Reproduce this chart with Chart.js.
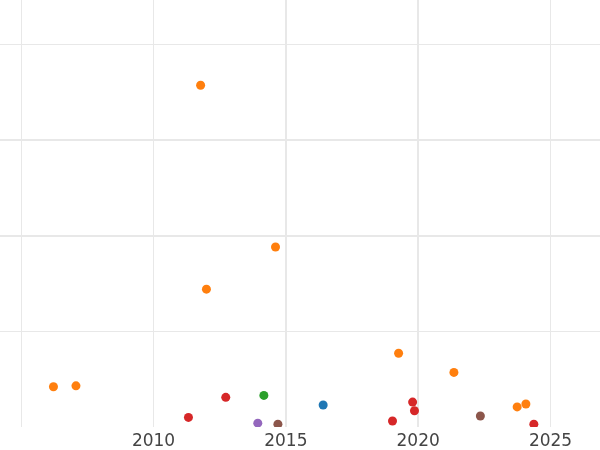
<!DOCTYPE html>
<html>
<head>
<meta charset="utf-8">
<script src="https://cdn.jsdelivr.net/npm/chart.js@4"></script>
<style>
  html, body { margin: 0; padding: 0; background: #fff; }
  #wrap { width: 600px; height: 450px; }
</style>
</head>
<body>
<div id="wrap"><canvas id="myChart"></canvas></div>
<script>
// x ticks (years) and y grid values
const xTicks = [2005, 2010, 2015, 2020, 2025];
const yTicks = [1, 2, 3, 4];

// series, one per colour
const orangeX = [2011.78, 2014.61, 2012.0, 2006.22, 2007.07, 2019.26, 2021.35, 2023.74, 2024.07];
const orangeY = [3.57, 1.88, 1.44, 0.42, 0.43, 0.77, 0.57, 0.21, 0.24];
const redX = [2011.32, 2012.73, 2019.03, 2019.79, 2019.86, 2024.37];
const redY = [0.10, 0.31, 0.063, 0.26, 0.17, 0.03];
const greenX = [2014.17];
const greenY = [0.33];
const blueX = [2016.41];
const blueY = [0.23];
const purpleX = [2013.94];
const purpleY = [0.04];
const brownX = [2014.70, 2022.35];
const brownY = [0.03, 0.115];

const pts = (xs, ys) => xs.map((x, i) => ({ x: x, y: ys[i] }));

const ds = (xs, ys, color) => ({
  data: pts(xs, ys),
  backgroundColor: color,
  borderWidth: 0,
  pointRadius: 4.5,
  pointHoverRadius: 4.5
});

document.addEventListener('DOMContentLoaded', () => {
  const ctx = document.getElementById('myChart').getContext('2d');

  new Chart(ctx, {
    type: 'scatter',
    data: {
      datasets: [
        ds(blueX, blueY, '#1f77b4'),
        ds(orangeX, orangeY, '#ff7f0e'),
        ds(greenX, greenY, '#2ca02c'),
        ds(redX, redY, '#d62728'),
        ds(purpleX, purpleY, '#9467bd'),
        ds(brownX, brownY, '#8c564b')
      ]
    },
    options: {
      responsive: true,
      maintainAspectRatio: false,
      animation: false,
      layout: { padding: 0, autoPadding: false },
      plugins: {
        legend: { display: false },
        tooltip: { enabled: false }
      },
      scales: {
        x: {
          type: 'linear',
          min: 2004.20,
          max: 2026.87,
          afterBuildTicks: (scale) => {
            scale.ticks = xTicks.map(v => ({ value: v }));
          },
          afterFit: (scale) => { scale.height = 23; },
          border: { display: false },
          grid: {
            color: '#e8e8e8',
            drawTicks: false,
            lineWidth: (c) => (c.tick && (c.tick.value === 2015 || c.tick.value === 2020)) ? 2 : 1
          },
          ticks: {
            padding: 4,
            color: '#444',
            font: { family: 'DejaVu Sans', size: 17 },
            maxRotation: 0,
            autoSkip: false,
            callback: (v) => v === 2005 ? '' : String(v)
          }
        },
        y: {
          min: 0,
          max: 4.46,
          afterBuildTicks: (scale) => {
            scale.ticks = yTicks.map(v => ({ value: v }));
          },
          border: { display: false },
          grid: {
            color: '#e8e8e8',
            drawTicks: false,
            lineWidth: (c) => (c.tick && (c.tick.value === 2 || c.tick.value === 3)) ? 2 : 1
          },
          ticks: { display: false }
        }
      }
    }
  });
});
</script>
</body>
</html>
